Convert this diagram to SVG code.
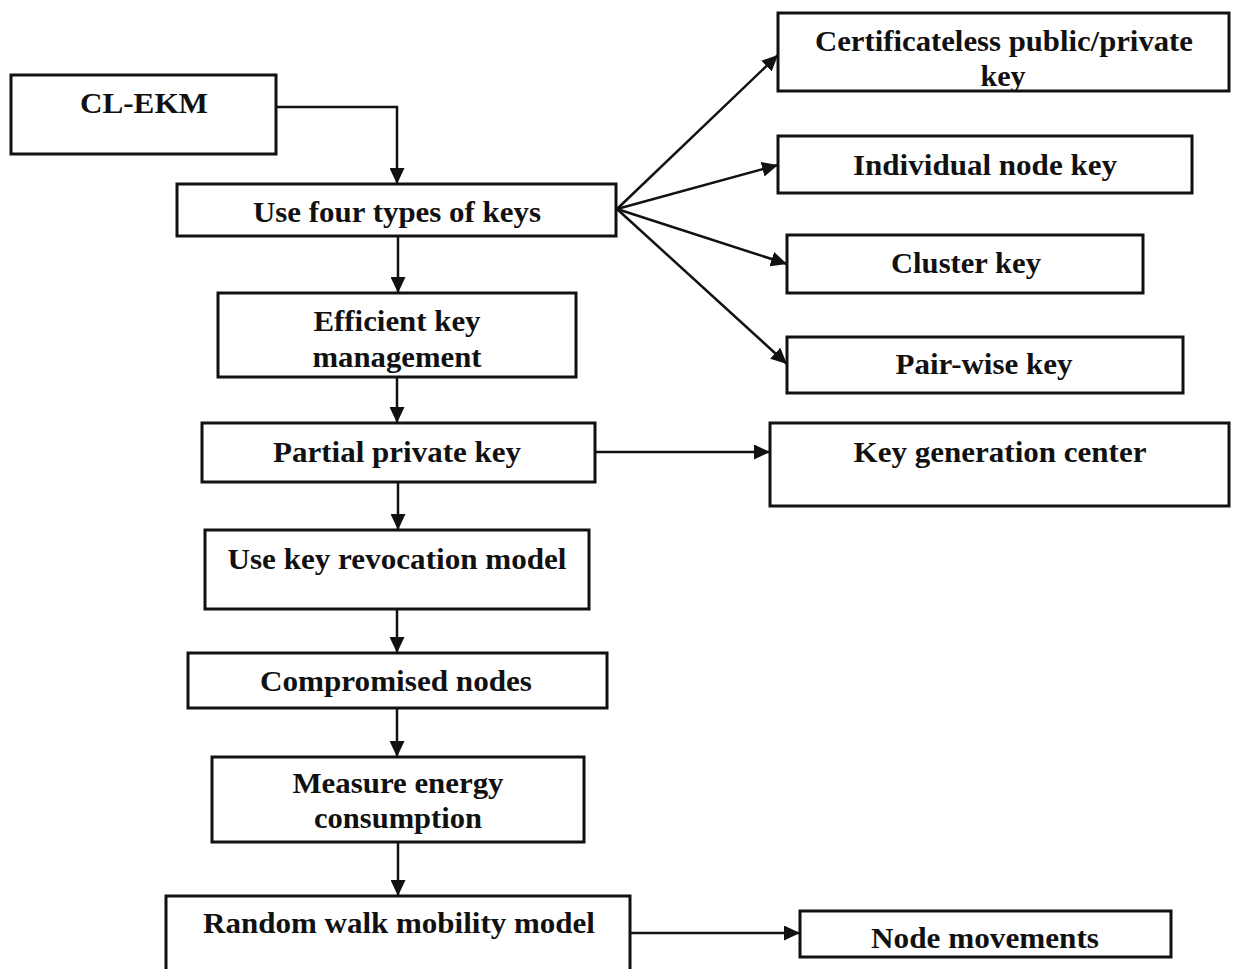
<svg xmlns="http://www.w3.org/2000/svg" width="1234" height="969" viewBox="0 0 1234 969">
<style>
.box{fill:#fff;stroke:#111;stroke-width:3}
.t{font-family:"Liberation Serif","Times New Roman",serif;font-weight:bold;font-size:30px;fill:#111;text-anchor:middle}
.c{fill:none;stroke:#111;stroke-width:2.5}
</style>
<defs>
<marker id="ah" markerUnits="userSpaceOnUse" markerWidth="16" markerHeight="15" refX="16" refY="7.5" orient="auto">
<path d="M0,0 L16,7.5 L0,15 z" fill="#111"/>
</marker>
</defs>
<rect width="1234" height="969" fill="#fff"/>
<g id="connectors">
<path class="c" d="M276,107 H397 V184" marker-end="url(#ah)"/>
<path class="c" d="M398,236 V293" marker-end="url(#ah)"/>
<path class="c" d="M397,377 V423" marker-end="url(#ah)"/>
<path class="c" d="M398,482 V530" marker-end="url(#ah)"/>
<path class="c" d="M397,609 V653" marker-end="url(#ah)"/>
<path class="c" d="M397,708 V757" marker-end="url(#ah)"/>
<path class="c" d="M398,842 V896" marker-end="url(#ah)"/>
<path class="c" d="M595,452 H770" marker-end="url(#ah)"/>
<path class="c" d="M630,933 H800" marker-end="url(#ah)"/>
<path class="c" d="M617,209 L778,55" marker-end="url(#ah)"/>
<path class="c" d="M617,209 L778,165" marker-end="url(#ah)"/>
<path class="c" d="M617,209 L787,264" marker-end="url(#ah)"/>
<path class="c" d="M617,209 L787,364" marker-end="url(#ah)"/>
</g>
<g id="n-clekm"><rect class="box" x="11" y="75" width="265" height="79"/><text class="t" x="144" y="113" textLength="128" lengthAdjust="spacingAndGlyphs">CL-EKM</text></g>
<g id="n-four"><rect class="box" x="177" y="184" width="439" height="52"/><text class="t" x="397" y="222" textLength="288" lengthAdjust="spacingAndGlyphs">Use four types of keys</text></g>
<g id="n-efficient"><rect class="box" x="218" y="293" width="358" height="84"/><text class="t" x="397" y="331" textLength="167" lengthAdjust="spacingAndGlyphs">Efficient key</text><text class="t" x="397" y="367" textLength="169" lengthAdjust="spacingAndGlyphs">management</text></g>
<g id="n-partial"><rect class="box" x="202" y="423" width="393" height="59"/><text class="t" x="397" y="462" textLength="248" lengthAdjust="spacingAndGlyphs">Partial private key</text></g>
<g id="n-revocation"><rect class="box" x="205" y="530" width="384" height="79"/><text class="t" x="397" y="569" textLength="339" lengthAdjust="spacingAndGlyphs">Use key revocation model</text></g>
<g id="n-compromised"><rect class="box" x="188" y="653" width="419" height="55"/><text class="t" x="396" y="691" textLength="272" lengthAdjust="spacingAndGlyphs">Compromised nodes</text></g>
<g id="n-energy"><rect class="box" x="212" y="757" width="372" height="85"/><text class="t" x="398" y="793" textLength="211" lengthAdjust="spacingAndGlyphs">Measure energy</text><text class="t" x="398" y="828" textLength="168" lengthAdjust="spacingAndGlyphs">consumption</text></g>
<g id="n-random"><rect class="box" x="166" y="896" width="464" height="90"/><text class="t" x="399" y="933" textLength="392" lengthAdjust="spacingAndGlyphs">Random walk mobility model</text></g>
<g id="n-movements"><rect class="box" x="800" y="911" width="371" height="46"/><text class="t" x="985" y="948" textLength="228" lengthAdjust="spacingAndGlyphs">Node movements</text></g>
<g id="n-cert"><rect class="box" x="778" y="13" width="451" height="78"/><text class="t" x="1004" y="51" textLength="378" lengthAdjust="spacingAndGlyphs">Certificateless public/private</text><text class="t" x="1003" y="86">key</text></g>
<g id="n-individual"><rect class="box" x="778" y="136" width="414" height="57"/><text class="t" x="985" y="175" textLength="264" lengthAdjust="spacingAndGlyphs">Individual node key</text></g>
<g id="n-cluster"><rect class="box" x="787" y="235" width="356" height="58"/><text class="t" x="966" y="273" textLength="150" lengthAdjust="spacingAndGlyphs">Cluster key</text></g>
<g id="n-pairwise"><rect class="box" x="787" y="337" width="396" height="56"/><text class="t" x="984" y="374" textLength="177" lengthAdjust="spacingAndGlyphs">Pair-wise key</text></g>
<g id="n-kgc"><rect class="box" x="770" y="423" width="459" height="83"/><text class="t" x="1000" y="462" textLength="293" lengthAdjust="spacingAndGlyphs">Key generation center</text></g>
</svg>
